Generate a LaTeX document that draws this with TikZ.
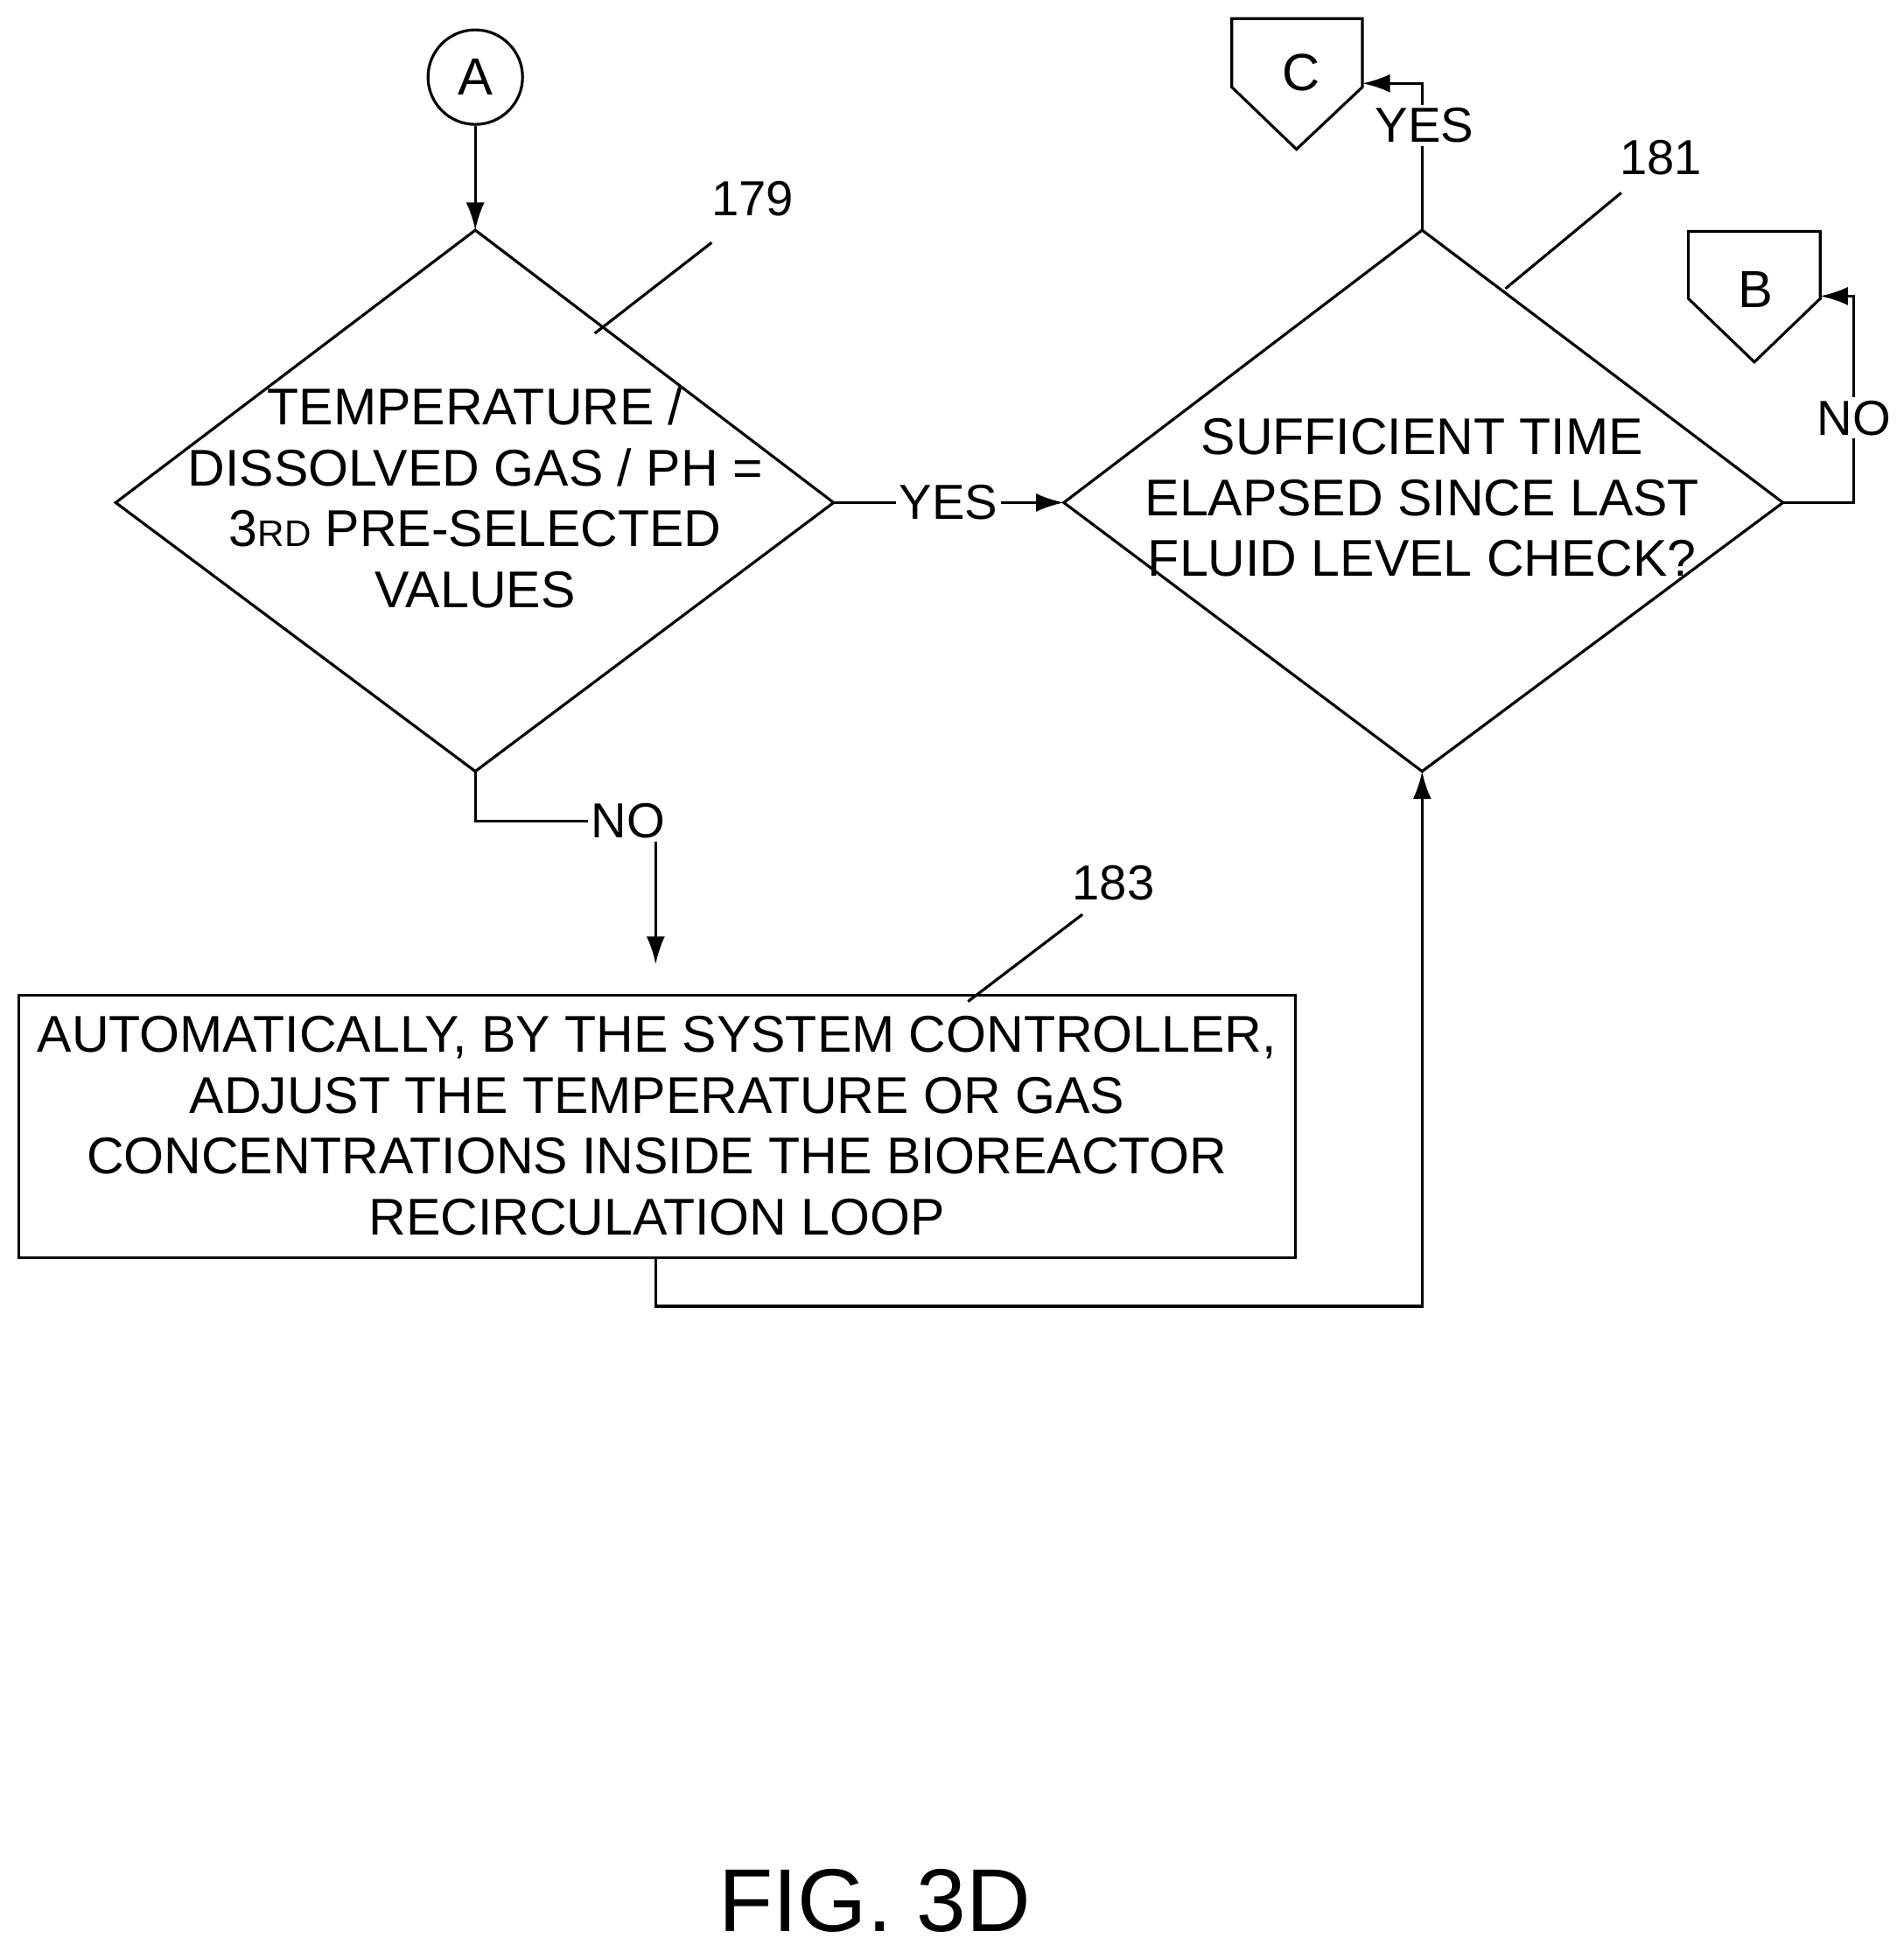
\documentclass[tikz,border=0pt]{standalone}
\usepackage{fontspec}
\setmainfont{Liberation Sans}
\usetikzlibrary{arrows.meta}
\begin{document}
\begin{tikzpicture}[x=0.01422cm,y=-0.01422cm,
  ln/.style={line width=0.9pt},
  arr/.style={ln,-{Latex[length=9pt,width=6pt]}},
  main/.style={font=\fontsize{16.8}{19.8}\selectfont,align=center},
  lab/.style={font=\fontsize{16}{18}\selectfont},
  inl/.style={lab,fill=white,inner sep=1pt}]
\useasboundingbox (0,0) rectangle (1530,1569);
% connector A
\node[draw,circle,ln,minimum size=76*0.01422cm,inner sep=0,font=\fontsize{17}{19}\selectfont] (A) at (382,62) {A};
% diamond 179
\draw[ln] (382,185) coordinate (d1t) -- (670,404) coordinate (d1r) -- (382,620) coordinate (d1b) -- (93,404) -- cycle;
\node[main] (t1) at (382,400) {TEMPERATURE /\\DISSOLVED GAS / PH =\\3{\fontsize{12}{14}\selectfont RD} PRE-SELECTED\\VALUES};
% diamond 181
\draw[ln] (1143,185) coordinate (d2t) -- (1433,404) coordinate (d2r) -- (1143,620) coordinate (d2b) -- (855,404) coordinate (d2l) -- cycle;
\node[main] (t2) at (1143,400) {SUFFICIENT TIME\\ELAPSED SINCE LAST\\FLUID LEVEL CHECK?};
% box 183
\draw[ln] (15,800) rectangle (1041,1011);
\coordinate (bxb) at (527,1011);
\node[main] (t3) at (528,905) {AUTOMATICALLY, BY THE SYSTEM CONTROLLER,\\ADJUST THE TEMPERATURE OR GAS\\CONCENTRATIONS INSIDE THE BIOREACTOR\\RECIRCULATION LOOP};
% off-page C and B
\draw[ln] (990,15) -- (1095,15) -- (1095,70) -- (1042,120) -- (990,70) -- cycle;
\node[font=\fontsize{17}{19}\selectfont] (C) at (1046,58) {C};
\coordinate (Cin) at (1095,67);
\draw[ln] (1357,186) -- (1463,186) -- (1463,240) -- (1410,291) -- (1357,240) -- cycle;
\node[font=\fontsize{17}{19}\selectfont] (B) at (1411,233) {B};
\coordinate (Bin) at (1463,238);
% arrows
\draw[arr] (A) -- (d1t);
\draw[arr] (d1r) -- (d2l) node[inl,pos=0.5] {YES};
\draw[arr] (d2t) -- (1143,67) -- (Cin);
\node[inl] at (1145,101) {YES};
\draw[arr] (d2r) -- (1490,404) -- (1490,238) -- (Bin);
\node[inl] at (1490,336) {NO};
\draw[arr] (d1b) -- (382,660) -- (527,660) -- (527,775);
\node[inl] at (505,660) {NO};
\draw[arr] (bxb) -- (527,1050) -- (1143,1050) -- (d2b);
% reference numbers
\node[lab] (n179) at (605,160) {179};
\draw[ln] (478,268) -- (572,195);
\node[lab] (n181) at (1335,127) {181};
\draw[ln] (1210,232) -- (1303,155);
\node[lab] (n183) at (895,710) {183};
\draw[ln] (778,805) -- (870,735);
\node[font=\fontsize{29}{34}\selectfont] (fig) at (703,1528) {FIG. 3D};
\end{tikzpicture}
\end{document}
